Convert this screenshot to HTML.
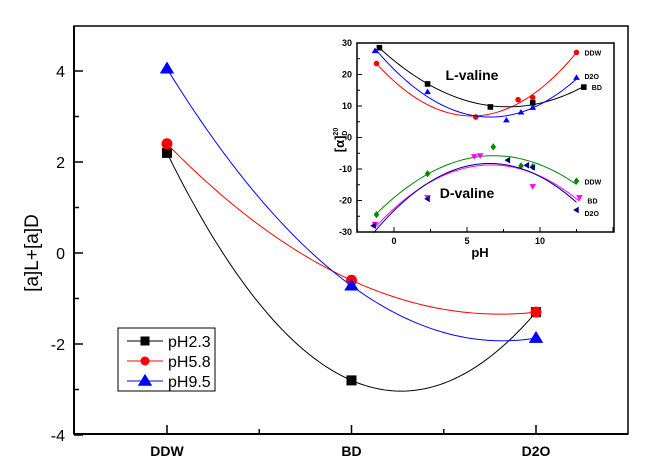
<!DOCTYPE html>
<html><head><meta charset="utf-8"><style>
body{margin:0;background:#fff;}
svg{display:block;font-family:"Liberation Sans",Arial,sans-serif;}
</style></head><body>
<svg id="c" width="653" height="472" viewBox="0 0 653 472"></svg>
<script>
const categories=["DDW","BD","D2O"];
const seriesNames=["pH2.3","pH5.8","pH9.5"];
const pH23=[2.2,-2.8,-1.3];
const pH58=[2.4,-0.6,-1.3];
const pH95=[4.05,-0.72,-1.87];
const yTicks=[-4,-2,0,2,4];
const insetYTicks=[-30,-20,-10,0,10,20,30];
const insetXTicks=[0,5,10];
const lDDWx=[-1.2,5.6,8.5,9.5,12.5], lDDWy=[23.5,6.5,12,12.7,27];
const lBDx=[-1,2.3,6.6,9.5,13], lBDy=[28.5,17,9.7,11,16];
const lD2Ox=[-1.3,2.3,7.7,8.7,9.5,12.5], lD2Oy=[27.5,14.5,5.5,8,9.5,19];
const dDDWx=[-1.2,2.3,6.8,8.7,9.5,12.5], dDDWy=[-24.5,-11.5,-3,-9,-9.3,-13.8];
const dBDx=[-1.3,2.3,5.5,5.9,9.5,12.7], dBDy=[-27.5,-19,-6,-5.7,-15.5,-19];
const dD2Ox=[-1.4,2.3,7.8,9.1,9.5,12.5], dD2Oy=[-28,-19.5,-7.2,-8.8,-9.5,-23];

const S=document.getElementById('c'),NS="http://www.w3.org/2000/svg";
function el(t,a,p){const e=document.createElementNS(NS,t);for(const k in a)e.setAttribute(k,a[k]);(p||S).appendChild(e);return e;}
function tx(s,a,p){const e=el('text',a,p);e.textContent=s;return e;}
// main axes
const X0=74,X1=628,Y0=26,Y1=434;
const xs=i=>167+i*184.5, ys=v=>253-v*45.5;
let g=el('g',{});
el('rect',{x:X0,y:Y0,width:X1-X0,height:Y1-Y0,fill:'none',stroke:'#000','stroke-width':1.5},g);
el('line',{x1:X0,y1:Y0,x2:X0,y2:Y1,stroke:'#000','stroke-width':2},g);
el('line',{x1:X0,y1:Y1,x2:X1,y2:Y1,stroke:'#000','stroke-width':2},g);
for(let v=-4;v<=4;v++){el('line',{x1:X0,y1:ys(v),x2:X0+(v%2?5:9),y2:ys(v),stroke:'#000','stroke-width':1.5},g);}
yTicks.forEach(v=>{const t=tx(String(v),{x:65,y:ys(v)+6,'text-anchor':'end','font-size':16});});
categories.forEach((c,i)=>{el('line',{x1:xs(i),y1:Y1,x2:xs(i),y2:Y1-9,stroke:'#000','stroke-width':1.5},g);
 if(i<2)el('line',{x1:xs(i+0.5),y1:Y1,x2:xs(i+0.5),y2:Y1-5,stroke:'#000','stroke-width':1.5},g);
 const t=tx(c,{x:xs(i),y:456,'text-anchor':'middle','font-size':14,'font-weight':'bold'});});
const yt=tx("[a]L+[a]D",{x:38,y:253,'text-anchor':'middle','font-size':19,transform:'rotate(-90 38 253)'});

function quad3(v){const a=(v[2]-2*v[1]+v[0])/2,b=v[1]-v[0]-a;return x=>v[0]+b*x+a*x*x;}
function marker(type,x,y,col,sz,p){
 if(type==='sq')return el('rect',{x:x-sz,y:y-sz,width:2*sz,height:2*sz,fill:col},p);
 if(type==='ci')return el('circle',{cx:x,cy:y,r:sz,fill:col},p);
 if(type==='tr')return el('polygon',{points:`${x},${y-sz*1.2} ${x-sz*1.2},${y+sz*0.8} ${x+sz*1.2},${y+sz*0.8}`,fill:col},p);
 if(type==='td')return el('polygon',{points:`${x},${y+sz*1.2} ${x-sz*1.2},${y-sz*0.8} ${x+sz*1.2},${y-sz*0.8}`,fill:col},p);
 if(type==='tl')return el('polygon',{points:`${x-sz*1.2},${y} ${x+sz*0.8},${y-sz*1.2} ${x+sz*0.8},${y+sz*1.2}`,fill:col},p);
 if(type==='di')return el('polygon',{points:`${x},${y-sz*1.3} ${x-sz},${y} ${x},${y+sz*1.3} ${x+sz},${y}`,fill:col},p);
}
const mainS=[[pH23,'#000','sq','series-ph2-3'],[pH58,'#f00','ci','series-ph5-8'],[pH95,'#00f','tr','series-ph9-5']];
mainS.forEach(([d,col,m,nm])=>{const sg=el('g',{});
 const f=quad3(d);let pts=[];for(let k=0;k<=100;k++){const x=k/50;pts.push(xs(x)+','+ys(f(x)));}
 el('polyline',{points:pts.join(' '),fill:'none',stroke:col,'stroke-width':1},sg);
 d.forEach((v,i)=>marker(m,xs(i),ys(v),col,m==='tr'?6:m==='ci'?5.5:5,sg));});
// legend
const lg=el('g',{});
el('rect',{x:118,y:328,width:97,height:63,fill:'#fff',stroke:'#000','stroke-width':1},lg);
mainS.forEach(([d,col,m],i)=>{const y=341+i*20;const eg=el('g',{},lg);
 el('line',{x1:127,y1:y,x2:163,y2:y,stroke:col,'stroke-width':1},eg);marker(m,145,y,col,m==='tr'?6:4.5,eg);
 tx(seriesNames[i],{x:168,y:y+6,'font-size':16},eg);});
// inset
const ix=v=>394+v*14.6, iy=v=>137.5-v*3.15;
const ig=el('g',{});
el('rect',{x:357,y:43,width:257,height:189,fill:'none',stroke:'#000','stroke-width':1.5},ig);
for(let v=-30;v<=30;v+=5){el('line',{x1:357,y1:iy(v),x2:357+(v%10?3:5),y2:iy(v),stroke:'#000'},ig);}
insetYTicks.forEach(v=>tx(String(v),{x:352,y:iy(v)+3,'text-anchor':'end','font-size':9,'font-weight':'bold'},ig));
for(let v=-2.5;v<=15;v+=2.5){if(ix(v)>357&&ix(v)<614)el('line',{x1:ix(v),y1:232,x2:ix(v),y2:232-(v%5?3:5),stroke:'#000'},ig);}
insetXTicks.forEach(v=>tx(String(v),{x:ix(v),y:244,'text-anchor':'middle','font-size':9,'font-weight':'bold'},ig));
tx("pH",{x:480,y:257,'text-anchor':'middle','font-size':13,'font-weight':'bold'},ig);
const iyl=el('text',{x:344,y:140,'text-anchor':'middle','font-size':13,'font-weight':'bold',transform:'rotate(-90 344 140)'},ig);
iyl.innerHTML='[α]<tspan font-size="7" dy="-6">20</tspan><tspan font-size="7" dy="9" dx="-8">D</tspan>';
tx("L-valine",{x:472,y:80,'text-anchor':'middle','font-size':14,'font-weight':'bold'},ig);
tx("D-valine",{x:467,y:198,'text-anchor':'middle','font-size':14,'font-weight':'bold'},ig);
function fit(xa,ya){let s=[0,0,0,0,0],t=[0,0,0];xa.forEach((x,i)=>{for(let k=0;k<5;k++)s[k]+=x**k;for(let k=0;k<3;k++)t[k]+=ya[i]*x**k;});
 const M=[[s[0],s[1],s[2],t[0]],[s[1],s[2],s[3],t[1]],[s[2],s[3],s[4],t[2]]];
 for(let i=0;i<3;i++){for(let j=i+1;j<3;j++){const f=M[j][i]/M[i][i];for(let k=i;k<4;k++)M[j][k]-=f*M[i][k];}}
 const c=[0,0,0];for(let i=2;i>=0;i--){let v=M[i][3];for(let k=i+1;k<3;k++)v-=M[i][k]*c[k];c[i]=v/M[i][i];}return x=>c[0]+c[1]*x+c[2]*x*x;}
const insetS=[[lDDWx,lDDWy,'#f00','ci','DDW',27,'inset-l-ddw'],[lBDx,lBDy,'#000','sq','BD',16,'inset-l-bd'],[lD2Ox,lD2Oy,'#00f','tr','D2O',19.5,'inset-l-d2o'],
 [dDDWx,dDDWy,'#080','di','DDW',-14,'inset-d-ddw'],[dBDx,dBDy,'#f0f','td','BD',-20,'inset-d-bd'],[dD2Ox,dD2Oy,'#008','tl','D2O',-24,'inset-d-d2o']];
insetS.forEach(([xa,ya,col,m,lab,ly,nm])=>{const sg=el('g',{},ig);
 const f=fit(xa,ya);const a=Math.min(...xa),b=Math.max(...xa);let pts=[];for(let k=0;k<=60;k++){const x=a+(b-a)*k/60;pts.push(ix(x)+','+iy(f(x)));}
 el('polyline',{points:pts.join(' '),fill:'none',stroke:col,'stroke-width':1},sg);
 xa.forEach((x,i)=>marker(m,ix(x),iy(ya[i]),col,2.8,sg));
 tx(lab,{x:ix(Math.max(...xa))+8,y:iy(ly)+3,'font-size':7,'font-weight':'bold'},sg);});
</script>
</body></html>
